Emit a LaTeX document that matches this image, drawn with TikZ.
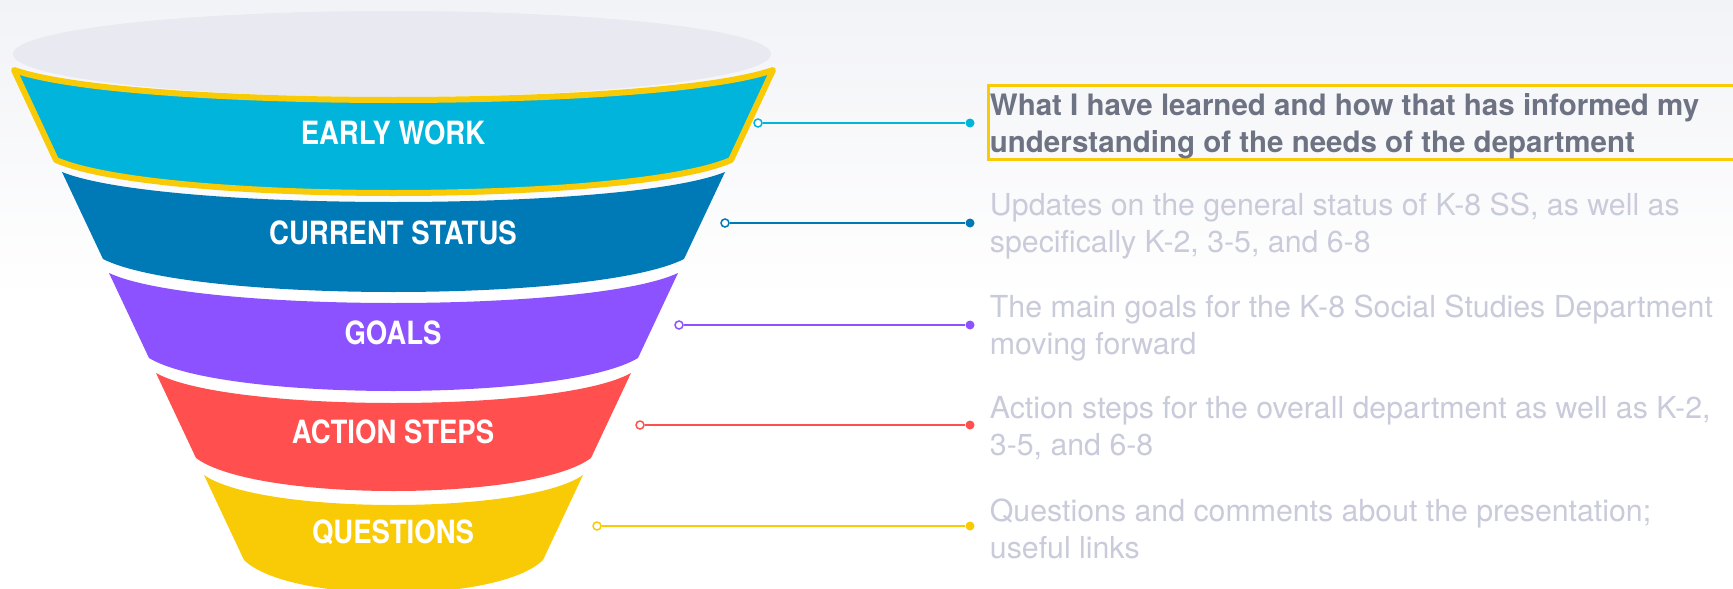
\documentclass[tikz,border=0pt]{standalone}
\usepackage{fontspec}
\setmainfont{TeX Gyre Heros}
\newfontfamily\labelfont[FakeStretch=0.86]{TeX Gyre Heros}
\usetikzlibrary{positioning}
\definecolor{bgtop}{HTML}{F2F3F7}
\definecolor{funtop}{HTML}{E8E9F1}
\definecolor{funcyan}{HTML}{00B4DC}
\definecolor{funblue}{HTML}{0079B7}
\definecolor{funpurple}{HTML}{8C52FF}
\definecolor{funred}{HTML}{FF4F4F}
\definecolor{funyellow}{HTML}{F8CB06}
\definecolor{darktext}{HTML}{6E7384}
\definecolor{lighttext}{HTML}{C9CBDA}
\begin{document}
\begin{tikzpicture}[x=1pt, y=-1pt,
  seglabel/.style={text=white, font=\labelfont\bfseries\fontsize{32}{36}\selectfont, inner sep=0pt},
  ringdot/.style={circle, draw=#1, fill=white, line width=1.5pt, inner sep=0pt, minimum size=8pt},
  enddot/.style={circle, fill=#1, inner sep=0pt, minimum size=9pt},
  link/.style={draw=#1, line width=1.8pt},
  desc/.style={inner sep=0pt, align=left, yshift=-3pt, text=lighttext, font=\fontsize{30.3}{37}\selectfont},
  hidesc/.style={desc, text=darktext, font=\bfseries\fontsize{29.5}{37}\selectfont},
  hibox/.style={draw=funyellow, line width=3pt}]
\useasboundingbox (0,0) rectangle (1733,589);
\fill[white] (0,0) rectangle (1733,589);
\shade[top color=bgtop, bottom color=white] (0,0) rectangle (1733,300);
\fill[funtop] (392,54) ellipse [x radius=379pt, y radius=43pt];
\draw[fill=funcyan, draw=funyellow, line width=6pt, line join=round] (14,70) .. controls (128,110) and (659,110) .. (773,70) -- (731,160) .. controls (630,204) and (157,204) .. (56,160) -- cycle;
\fill[funblue] (62,172) .. controls (161,212) and (626,212) .. (725,172) -- (684,259) .. controls (597,303) and (190,303) .. (103,259) -- cycle;
\fill[funpurple] (109,273) .. controls (194,313) and (593,313) .. (678,273) -- (638,358) .. controls (565,402) and (222,402) .. (149,358) -- cycle;
\fill[funred] (156,373) .. controls (227,413) and (560,413) .. (631,373) -- (591,458) .. controls (532,502) and (255,502) .. (196,458) -- cycle;
\fill[funyellow] (204,475) .. controls (261,515) and (526,515) .. (583,475) -- (543,560) .. controls (498,604) and (289,604) .. (244,560) -- cycle;
\node[seglabel] (l1) at (393,133) {EARLY WORK};
\node[seglabel] (l2) at (393,233) {CURRENT STATUS};
\node[seglabel] (l3) at (393,333) {GOALS};
\node[seglabel] (l4) at (393,432) {ACTION STEPS};
\node[seglabel] (l5) at (393,532) {QUESTIONS};
\node[ringdot=funcyan] (s1) at (758,123) {};
\node[enddot=funcyan] (e1) at (970,123) {};
\draw[link=funcyan] (s1) -- (e1);
\node[ringdot=funblue] (s2) at (725,223) {};
\node[enddot=funblue] (e2) at (970,223) {};
\draw[link=funblue] (s2) -- (e2);
\node[ringdot=funpurple] (s3) at (679,325) {};
\node[enddot=funpurple] (e3) at (970,325) {};
\draw[link=funpurple] (s3) -- (e3);
\node[ringdot=funred] (s4) at (640,425) {};
\node[enddot=funred] (e4) at (970,425) {};
\draw[link=funred] (s4) -- (e4);
\node[ringdot=funyellow] (s5) at (597,526) {};
\node[enddot=funyellow] (e5) at (970,526) {};
\draw[link=funyellow] (s5) -- (e5);
\draw[hibox] (988,85) rectangle (1745,159);
\node[hidesc, right=15pt of e1] (t1) {What I have learned and how that has informed my\\understanding of the needs of the department};
\node[desc, right=15pt of e2] (t2) {Updates on the general status of K-8 SS, as well as\\specifically K-2, 3-5, and 6-8};
\node[desc, right=15pt of e3] (t3) {The main goals for the K-8 Social Studies Department\\moving forward};
\node[desc, right=15pt of e4] (t4) {Action steps for the overall department as well as K-2,\\3-5, and 6-8};
\node[desc, right=15pt of e5] (t5) {Questions and comments about the presentation;\\useful links};
\end{tikzpicture}
\end{document}
